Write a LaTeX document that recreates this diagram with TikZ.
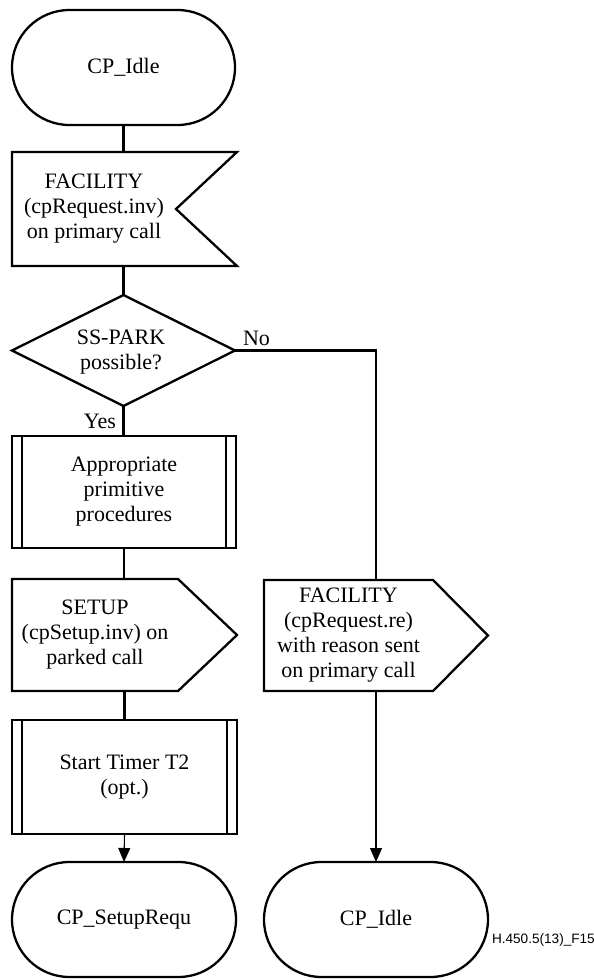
\documentclass[tikz,border=0pt]{standalone}
\usepackage{fontspec}
\setmainfont{Liberation Serif}
\newfontfamily\tagfont{Liberation Sans}
\usetikzlibrary{shapes.misc,arrows.meta}

\begin{document}
\begin{tikzpicture}[x=0.5pt,y=-0.5pt,
  every node/.style={font=\fontsize{11}{12.5}\selectfont, align=center, inner sep=0pt, outer sep=0pt},
  thick line/.style={line width=1.15pt},
  flow/.style={line width=0.55pt,-{Triangle[length=7pt,width=6pt]}},
  terminal/.style={draw, thick line, rounded rectangle, minimum width=112pt, minimum height=57.5pt},
  procbox/.style={draw, thick line, rectangle, minimum width=112pt, minimum height=56pt},
  plainframe/.style={rectangle, minimum width=#1},
]
\useasboundingbox (0,0) rectangle (594,980);

% ---- states -------------------------------------------------------------
\node[terminal, minimum width=111.5pt] (idle1) at (123.5,67.5) {CP\_Idle};
\node[terminal] (setupreq) at (124,919.5) {CP\_SetupRequ};
\node[terminal] (idle2) at (376,919.5) {CP\_Idle};

% ---- input signal: FACILITY received -------------------------------------
\node[plainframe=82pt, minimum height=57pt] (fac1) at (94,209)
  {FACILITY\\(cpRequest.inv)\\on primary call};
\draw[thick line] (fac1.north west) -- ([xshift=30.5pt]fac1.north east)
  -- (fac1.east) -- ([xshift=30.5pt]fac1.south east) -- (fac1.south west) -- cycle;

% ---- decision --------------------------------------------------------------
\node[plainframe=111.5pt, minimum height=55.5pt] (dec) at (123.5,350.5) {};
\node (dectext) at (121,352) {SS-PARK\\possible?};
\draw[thick line] (dec.north) -- (dec.east) -- (dec.south) -- (dec.west) -- cycle;

% ---- procedure calls ------------------------------------------------------
\node[procbox] (proc1) at (124,492) {Appropriate\\primitive\\procedures};
\node[procbox, minimum width=112.5pt, minimum height=57pt] (timer) at (124.5,777)
  {Start Timer T2\\(opt.)};
\foreach \b in {proc1,timer}{
  \draw[thick line] ([xshift=5pt]\b.north west) -- ([xshift=5pt]\b.south west);
  \draw[thick line] ([xshift=-5pt]\b.north east) -- ([xshift=-5pt]\b.south east);
}

% ---- output signals -------------------------------------------------------
\node[plainframe=83pt, minimum height=56pt] (setup) at (95,635)
  {SETUP\\(cpSetup.inv) on\\parked call};
\draw[thick line] (setup.north west) -- (setup.north east)
  -- ([xshift=29.5pt]setup.east) -- (setup.south east) -- (setup.south west) -- cycle;

\node[plainframe=84.5pt, minimum height=55.5pt] (fac2) at (348.5,635.5)
  {FACILITY\\(cpRequest.re)\\with reason sent\\on primary call};
\draw[thick line] (fac2.north west) -- (fac2.north east)
  -- ([xshift=27.5pt]fac2.east) -- (fac2.south east) -- (fac2.south west) -- cycle;

% ---- connectors -----------------------------------------------------------
\draw[thick line] (idle1.south) -- (idle1.south |- fac1.north);
\draw[thick line] (dec.north |- fac1.south) -- (dec.north);
\draw[thick line] (dec.south) -- (dec.south |- proc1.north);
\draw[thick line] (dec.east) -| (idle2.north |- fac2.north);
\draw[thick line] (proc1.south) -- (proc1.south |- setup.north);
\draw[thick line] (timer.north |- setup.south) -- (timer.north);
\draw[flow] (timer.south) -- (setupreq.north);
\draw[flow] (idle2.north |- fac2.south) -- (idle2.north);

% ---- branch labels ----------------------------------------------------------
\node[anchor=base east] (yes) at (116,428) {Yes};
\node[anchor=base west] (no) at (243,345) {No};

% ---- figure tag -------------------------------------------------------------
\node[anchor=base west, font=\tagfont\fontsize{6.8}{8}\selectfont] (tag) at (492,943)
  {H.450.5(13)\_F15};
\end{tikzpicture}
\end{document}
